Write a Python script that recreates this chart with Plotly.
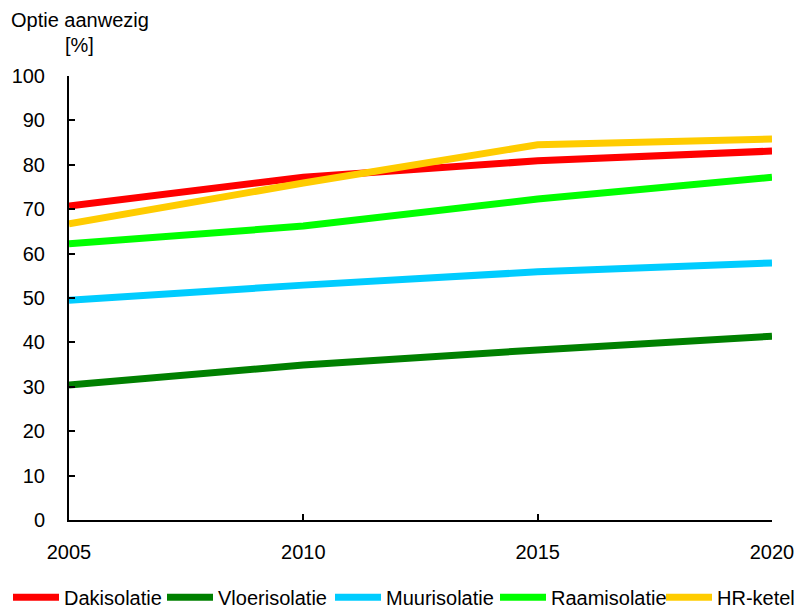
import plotly.graph_objects as go

years = [2005, 2010, 2015, 2020]
dakisolatie = [70.7, 77.2, 80.9, 83.1]
vloerisolatie = [30.4, 34.9, 38.3, 41.4]
muurisolatie = [49.5, 52.9, 55.9, 57.9]
raamisolatie = [62.2, 66.2, 72.3, 77.2]
hr_ketel = [66.7, 75.9, 84.5, 85.8]

series = [
    ("Dakisolatie", dakisolatie, "#FF0000"),
    ("Vloerisolatie", vloerisolatie, "#008000"),
    ("Muurisolatie", muurisolatie, "#00CCFF"),
    ("Raamisolatie", raamisolatie, "#00FF00"),
    ("HR-ketel", hr_ketel, "#FFCC00"),
]

FIG_W, FIG_H = 795, 602   # page body has an 8px default margin
legend_x_px = [0, 154, 322, 487, 653]

font = dict(family="Liberation Sans, Arial, sans-serif", size=20, color="#000000")

fig = go.Figure()
legends = {}
for i, (name, vals, col) in enumerate(series):
    key = "legend" if i == 0 else f"legend{i + 1}"
    fig.add_trace(go.Scatter(x=years, y=vals, name=name, mode="lines",
                             line=dict(color=col, width=7), legend=key))
    legends[key] = dict(orientation="h", xref="container", yref="container",
                        x=legend_x_px[i] / FIG_W, y=0.021,
                        xanchor="left", yanchor="middle",
                        font=font, itemwidth=46, bgcolor="rgba(0,0,0,0)")

fig.update_layout(
    width=FIG_W, height=FIG_H,
    margin=dict(l=61, r=31, t=68, b=90),
    paper_bgcolor="white", plot_bgcolor="white",
    font=font,
    showlegend=True,
    xaxis=dict(range=[2005, 2020], tickvals=years, ticktext=[str(y) for y in years],
               showgrid=False, zeroline=False, showline=True, linecolor="black",
               linewidth=2, ticks="inside", ticklen=6, tickwidth=1.5,
               tickcolor="black", ticklabelstandoff=13, automargin=False),
    yaxis=dict(range=[0, 100], tickvals=list(range(0, 101, 10)),
               showgrid=False, zeroline=False, showline=True, linecolor="black",
               linewidth=2, ticks="inside", ticklen=6, tickwidth=1.5,
               tickcolor="black", ticklabelstandoff=18, automargin=False),
    annotations=[
        dict(text="Optie aanwezig", xref="paper", yref="paper", x=-0.086, y=1.126,
             xanchor="left", yanchor="middle", showarrow=False, font=font),
        dict(text="[%]", xref="paper", yref="paper", x=0.0156, y=1.070,
             xanchor="center", yanchor="middle", showarrow=False, font=font),
    ],
)
fig.update_layout(**legends)

fig.write_html("out.html")
